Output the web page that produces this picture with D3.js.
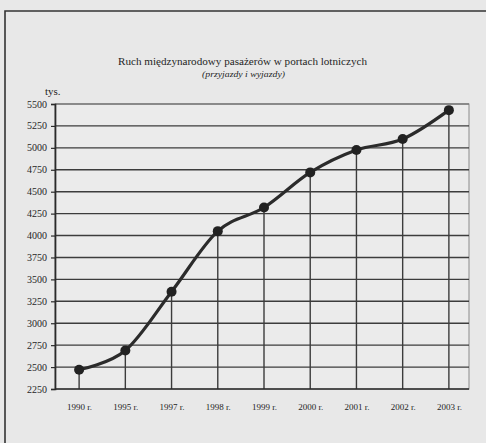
<!DOCTYPE html>
<html>
<head>
<meta charset="utf-8">
<script src="https://cdn.jsdelivr.net/npm/d3@7"></script>
<style>
  html, body { margin: 0; padding: 0; background: #e8e8e8; }
  svg { display: block; }
  text { font-family: "Liberation Serif", "DejaVu Serif", serif; fill: #1f1f1f; }
</style>
</head>
<body>
<script>
// International passenger traffic at airports (arrivals and departures), thousands
const years = ["1990 r.", "1995 r.", "1997 r.", "1998 r.", "1999 r.", "2000 r.", "2001 r.", "2002 r.", "2003 r."];
const passengers = [2470, 2690, 3360, 4050, 4320, 4720, 4975, 5100, 5430];
const yTicks = [2250, 2500, 2750, 3000, 3250, 3500, 3750, 4000, 4250, 4500, 4750, 5000, 5250, 5500];

const W = 486, H = 443;
const plot = { left: 55, right: 469, top: 104, bottom: 389 };

const svg = d3.select("body").append("svg")
  .attr("width", W).attr("height", H);

// page background and frame
svg.append("rect").attr("width", W).attr("height", H).attr("fill", "#e8e8e8");
svg.append("path")
  .attr("d", `M5,${H} L5,11 L${W},11`)
  .attr("fill", "none").attr("stroke", "#333").attr("stroke-width", 1.6);

const x = d3.scalePoint().domain(years).range([56, 472]).padding(0.5);
const y = d3.scaleLinear().domain([2250, 5500]).range([plot.bottom, plot.top]);

// plot area
svg.append("rect")
  .attr("x", plot.left).attr("y", plot.top)
  .attr("width", plot.right - plot.left).attr("height", plot.bottom - plot.top)
  .attr("fill", "#ebebeb")
  .attr("stroke", "#8a8a8a").attr("stroke-width", 1);

// horizontal gridlines
svg.append("g").selectAll("line").data(yTicks.slice(1)).join("line")
  .attr("x1", plot.left).attr("x2", plot.right)
  .attr("y1", d => y(d)).attr("y2", d => y(d))
  .attr("stroke", d => d === 5500 ? "#7a7a7a" : "#3c3c3c")
  .attr("stroke-width", 1.4);

// drop lines from each point to the axis
svg.append("g").selectAll("line").data(years).join("line")
  .attr("x1", d => x(d)).attr("x2", d => x(d))
  .attr("y1", (d, i) => y(passengers[i])).attr("y2", plot.bottom)
  .attr("stroke", "#3c3c3c").attr("stroke-width", 1.4);

// y axis
const yAxis = svg.append("g")
  .attr("transform", `translate(${plot.left},0)`)
  .call(d3.axisLeft(y).tickValues(yTicks).tickSize(4).tickPadding(4).tickFormat(d3.format("d")));
yAxis.select(".domain").attr("stroke", "#2a2a2a").attr("stroke-width", 1.7);
yAxis.selectAll(".tick line").attr("stroke", "#2a2a2a").attr("stroke-width", 1.2);
yAxis.selectAll(".tick text")
  .style("font-family", "'Liberation Serif', serif").style("font-size", "9.5px")
  .attr("textLength", 20).attr("lengthAdjust", "spacingAndGlyphs")
  .attr("fill", "#1f1f1f");

// x axis
const xAxis = svg.append("g")
  .attr("transform", `translate(0,${plot.bottom})`)
  .call(d3.axisBottom(x).tickSize(0).tickPadding(15));
xAxis.select(".domain").attr("d", `M${plot.left},0H${plot.right}`)
  .attr("stroke", "#2a2a2a").attr("stroke-width", 1.7);
xAxis.selectAll(".tick text")
  .style("font-family", "'Liberation Serif', serif").style("font-size", "9px")
  .attr("fill", "#1f1f1f");

// smoothed series line
const line = d3.line()
  .x((d, i) => x(years[i]))
  .y(d => y(d))
  .curve(d3.curveCardinal.tension(0));
svg.append("path").datum(passengers)
  .attr("d", line)
  .attr("fill", "none").attr("stroke", "#2b2b2b").attr("stroke-width", 3.2);

// point markers
svg.append("g").selectAll("circle").data(passengers).join("circle")
  .attr("cx", (d, i) => x(years[i])).attr("cy", d => y(d))
  .attr("r", 5).attr("fill", "#222");

// titles
svg.append("text").attr("x", 242.5).attr("y", 65)
  .attr("text-anchor", "middle").style("font-size", "10px")
  .attr("textLength", 249).attr("lengthAdjust", "spacingAndGlyphs")
  .text("Ruch międzynarodowy pasażerów w portach lotniczych");
svg.append("text").attr("x", 243.5).attr("y", 77)
  .attr("text-anchor", "middle").style("font-size", "8.5px").style("font-style", "italic")
  .attr("textLength", 83).attr("lengthAdjust", "spacingAndGlyphs")
  .text("(przyjazdy i wyjazdy)");
svg.append("text").attr("x", 45).attr("y", 95)
  .style("font-size", "11px")
  .text("tys.");
</script>
</body>
</html>
